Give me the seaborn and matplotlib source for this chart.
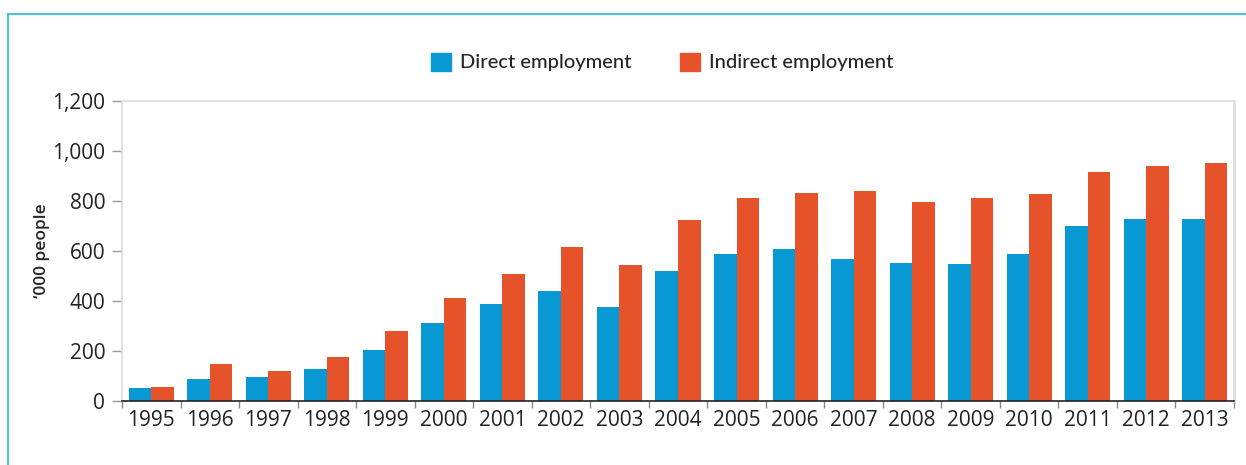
import pandas as pd
import seaborn as sns
import matplotlib.pyplot as plt
from matplotlib.lines import Line2D
from matplotlib.ticker import FuncFormatter, FixedLocator

sns.set_style("white")
plt.rcParams['font.family'] = ['Open Sans', 'DejaVu Sans']

# Data ('000 people)
years = [str(y) for y in range(1995, 2014)]
direct = [52, 88, 96, 128, 204, 312, 388, 440, 376, 520,
          588, 608, 568, 552, 548, 588, 700, 728, 728]
indirect = [56, 148, 120, 176, 280, 412, 508, 616, 544, 724,
            812, 832, 840, 796, 812, 828, 916, 940, 952]
series = ['Direct employment', 'Indirect employment']
colors = ['#0899D5', '#E6532A']

df = pd.DataFrame({
    'Year': years * 2,
    'Value': direct + indirect,
    'Type': [series[0]] * len(years) + [series[1]] * len(years),
})

fig = plt.figure(figsize=(12.46, 4.65), dpi=100)
ax = fig.add_axes([122 / 1246, 1 - 401 / 465, (1234 - 122) / 1246, 300 / 465])

sns.barplot(data=df, x='Year', y='Value', hue='Type', palette=colors,
            width=0.77, saturation=1, linewidth=0, edgecolor='none',
            ax=ax, legend=False)

ax.set_xlim(-0.5, len(years) - 0.5)
ax.set_ylim(0, 1200)
ax.set_yticks(range(0, 1201, 200))
ax.yaxis.set_major_formatter(FuncFormatter(lambda v, p: f"{int(v):,}"))
ax.set_xlabel('')
ax.set_ylabel('\u2018000 people', fontsize=12.5, fontweight='semibold', labelpad=2)

# spines
for s in ['top', 'left', 'right']:
    ax.spines[s].set_color('#DDDDDD')
    ax.spines[s].set_linewidth(1.2)
ax.spines['right'].set_linewidth(2.0)
ax.spines['bottom'].set_color('#222222')
ax.spines['bottom'].set_linewidth(1.2)

ax.tick_params(axis='y', which='major', left=True, length=7, width=1,
               color='#999999', labelsize=15, pad=5, labelcolor='#222222')
ax.tick_params(axis='x', which='major', bottom=False, labelsize=15,
               pad=3, labelcolor='#222222')
ax.xaxis.set_minor_locator(FixedLocator([i + 0.5 for i in range(-1, len(years))]))
ax.tick_params(axis='x', which='minor', bottom=True, length=5, width=1,
               color='#888888')

# legend
handles = [plt.Rectangle((0, 0), 1, 1, color=c) for c in colors]
fig.legend(handles, series, loc='center', bbox_to_anchor=(662 / 1246, 1 - 62 / 465),
           ncol=2, frameon=False, handlelength=1.0, handleheight=1.0,
           handletextpad=0.45, columnspacing=2.4,
           prop={'family': 'Lato', 'size': 14.5, 'weight': 'medium'})

# light blue frame (top and left edges)
fig.add_artist(Line2D([8 / 1246, 1], [1 - 14 / 465, 1 - 14 / 465],
                      transform=fig.transFigure, color='#4CC3E0', lw=1.5))
fig.add_artist(Line2D([8 / 1246, 8 / 1246], [0, 1 - 14 / 465],
                      transform=fig.transFigure, color='#4CC3E0', lw=1.5))

fig.savefig('out.png', dpi=100)
